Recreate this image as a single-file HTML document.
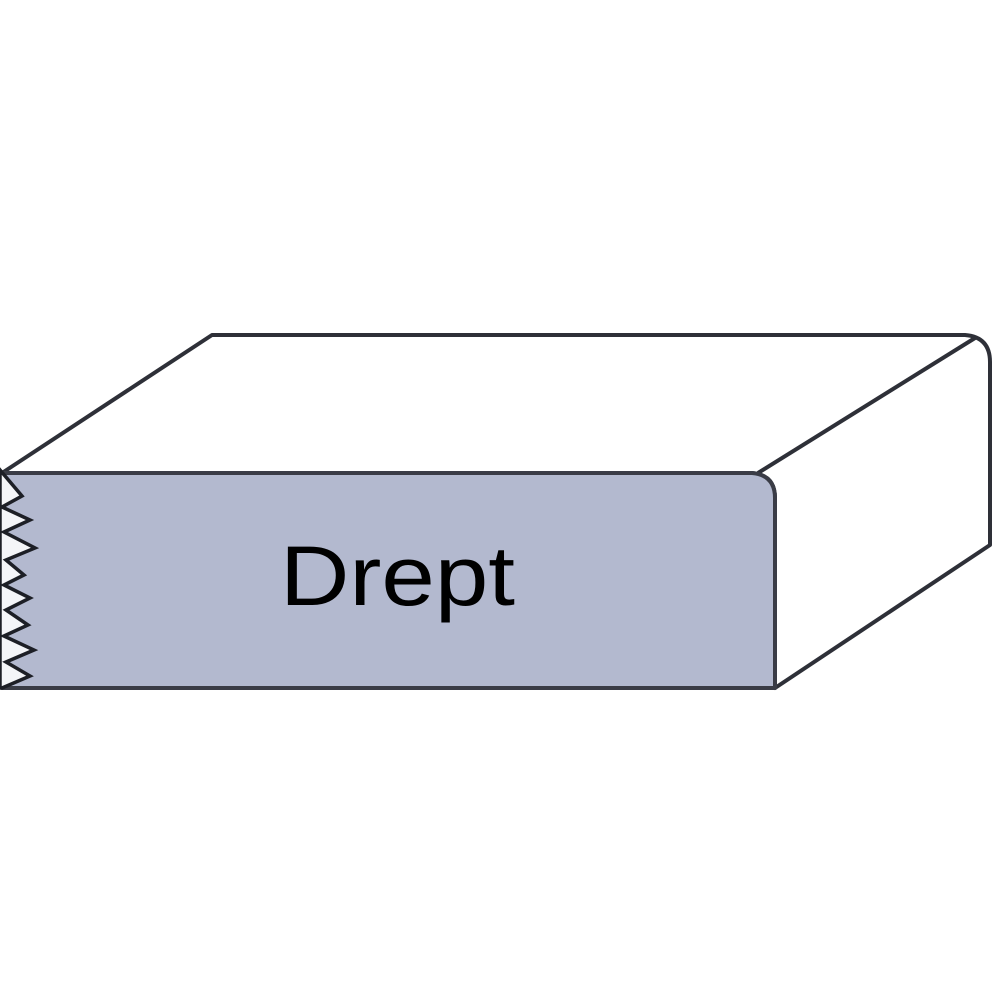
<!DOCTYPE html>
<html><head><meta charset="utf-8"><style>html,body{margin:0;padding:0;background:#fff}svg{display:block}</style></head>
<body>
<svg width="1000" height="1000" viewBox="0 0 1000 1000" xmlns="http://www.w3.org/2000/svg">
<rect width="1000" height="1000" fill="#fff"/>
<path d="M2,473 L212,335 L965,335 Q990,337 990,362 L990,545 L775,688 L775,498 Q775,475 752,473 Z" fill="#fff" stroke="#2e3038" stroke-width="4" stroke-linejoin="round"/>
<path d="M758,473 L975,338" stroke="#2e3038" stroke-width="4" fill="none"/>
<path d="M2,473 L752,473 Q775,475 775,498 L775,688 L2,688 Z" fill="#b3b9cf" stroke="#3a3c46" stroke-width="4" stroke-linejoin="round"/>
<path d="M0,470 L22,496 L2,507 L30,520 L4,532 L35,548 L6,560 L24,575 L4,585 L30,598 L6,610 L28,625 L4,636 L34,650 L6,662 L30,676 L2,688 L0,688 L0,470 Z" fill="#f4f5f8" stroke="#1d1f26" stroke-width="3.5" stroke-linejoin="miter"/>
<text x="280" y="605" font-family="Liberation Sans, sans-serif" font-size="84" fill="#000" textLength="235" lengthAdjust="spacingAndGlyphs">Drept</text>
</svg>
</body></html>
